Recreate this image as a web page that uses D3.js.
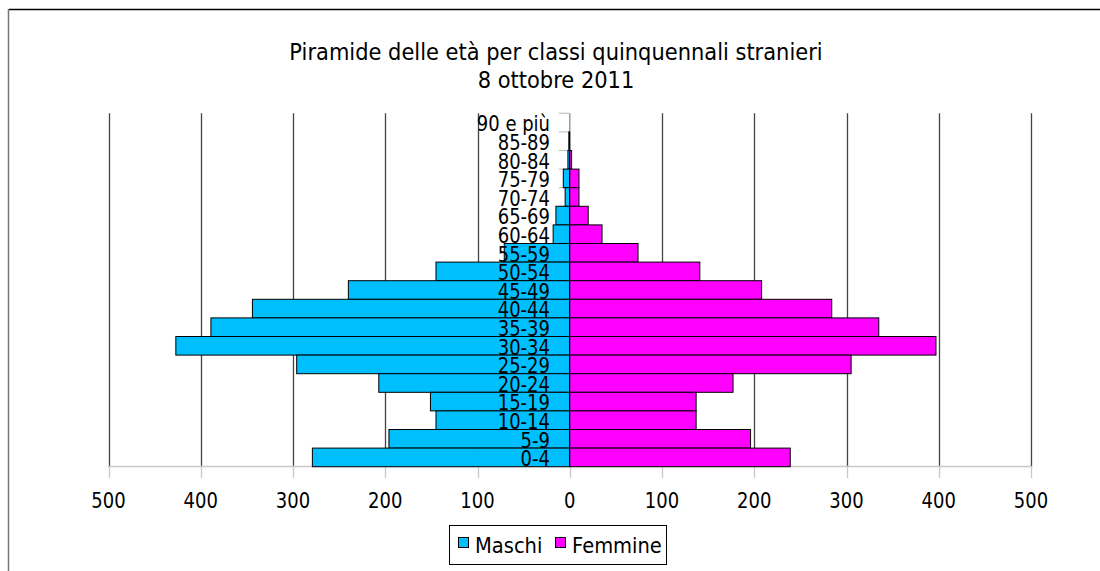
<!DOCTYPE html>
<html>
<head>
    <title>Piramide delle età stranieri</title>
    <script src="https://d3js.org/d3.v7.min.js"></script>
    <style>
        body { margin: 0; background: #fff; }
        svg { display: block; font-family: "DejaVu Sans", Verdana, sans-serif; }
    </style>
</head>
<body>
    <svg id="chart" width="1100" height="571"></svg>

    <script>
        // Classi di età, dall'alto verso il basso
        const ageClasses = ["90 e più", "85-89", "80-84", "75-79", "70-74", "65-69", "60-64",
            "55-59", "50-54", "45-49", "40-44", "35-39", "30-34", "25-29", "20-24",
            "15-19", "10-14", "5-9", "0-4"];
        const maschi = [0, 1, 2, 7, 5, 15, 18, 71, 145, 240, 344, 389, 427, 296, 207, 151, 145, 196, 279];
        const femmine = [0, 0, 2, 10, 10, 20, 35, 74, 141, 208, 284, 335, 397, 305, 177, 137, 137, 196, 239];
        const xTicks = [-500, -400, -300, -200, -100, 0, 100, 200, 300, 400, 500];
        const titleLines = ["Piramide delle età per classi quinquennali stranieri", "8 ottobre 2011"];
        const seriesNames = ["Maschi", "Femmine"];
        const colors = ["#00bfff", "#ff00ff"];

        const svg = d3.select("#chart");
        const sy = 1.15; // text looks a bit stretched vertically

        // frame
        svg.append("line").attr("x1", 9).attr("x2", 1100).attr("y1", 9.5).attr("y2", 9.5)
            .attr("stroke", "#000").attr("stroke-width", 1.5);
        svg.append("line").attr("x1", 8.5).attr("x2", 8.5).attr("y1", 9).attr("y2", 571)
            .attr("stroke", "#777").attr("stroke-width", 1.5);

        const x = d3.scaleLinear().domain([-500, 500]).range([108.5, 1031]);
        const y = d3.scaleBand().domain(ageClasses).range([113.3, 466.7]).padding(0);

        // title
        titleLines.forEach((t, i) => {
            svg.append("text")
                .attr("transform", `translate(556,${60 + i * 28}) scale(1,1.08)`)
                .attr("text-anchor", "middle")
                .attr("font-size", 21)
                .text(t);
        });

        // vertical gridlines
        svg.append("g").selectAll("line")
            .data(xTicks.filter(d => d !== 0))
            .enter().append("line")
            .attr("x1", d => Math.round(x(d)) + 0.5).attr("x2", d => Math.round(x(d)) + 0.5)
            .attr("y1", y.range()[0]).attr("y2", y.range()[1])
            .attr("stroke", "#444").attr("stroke-width", 1.3);

        // bottom axis line and ticks
        svg.append("line").attr("x1", x(-500)).attr("x2", x(500))
            .attr("y1", 466.5).attr("y2", 466.5).attr("stroke", "#c8c8c8").attr("stroke-width", 1.5);
        svg.append("g").selectAll("line")
            .data(xTicks)
            .enter().append("line")
            .attr("x1", d => Math.round(x(d)) + 0.5).attr("x2", d => Math.round(x(d)) + 0.5)
            .attr("y1", 466).attr("y2", 478)
            .attr("stroke", "#c8c8c8").attr("stroke-width", 1.3);

        // zero axis with category ticks
        svg.append("line").attr("x1", x(0)).attr("x2", x(0))
            .attr("y1", y.range()[0]).attr("y2", y.range()[1])
            .attr("stroke", "#999").attr("stroke-width", 1.5);
        svg.append("g").selectAll("line")
            .data(ageClasses)
            .enter().append("line")
            .attr("x1", x(0) - 11).attr("x2", x(0))
            .attr("y1", d => y(d)).attr("y2", d => y(d))
            .attr("stroke", "#c8c8c8").attr("stroke-width", 1.3);

        // bars
        svg.append("g").selectAll("rect")
            .data(ageClasses.map((c, i) => ({ c, v: maschi[i] })).filter(d => d.v > 0))
            .enter().append("rect")
            .attr("x", d => x(-d.v)).attr("width", d => x(0) - x(-d.v))
            .attr("y", d => y(d.c)).attr("height", y.bandwidth())
            .attr("fill", colors[0]).attr("stroke", "#000").attr("stroke-width", 1);
        svg.append("g").selectAll("rect")
            .data(ageClasses.map((c, i) => ({ c, v: femmine[i] })).filter(d => d.v > 0))
            .enter().append("rect")
            .attr("x", x(0)).attr("width", d => x(d.v) - x(0))
            .attr("y", d => y(d.c)).attr("height", y.bandwidth())
            .attr("fill", colors[1]).attr("stroke", "#000").attr("stroke-width", 1);

        // category labels
        svg.append("g").selectAll("text")
            .data(ageClasses)
            .enter().append("text")
            .attr("transform", d => `translate(550,${y(d) + y.bandwidth() - 0.5}) scale(1,${sy})`)
            .attr("text-anchor", "end")
            .attr("font-size", 18)
            .text(d => d);

        // x tick labels (absolute values)
        svg.append("g").selectAll("text")
            .data(xTicks)
            .enter().append("text")
            .attr("transform", d => `translate(${x(d)},508) scale(1,${sy})`)
            .attr("text-anchor", "middle")
            .attr("font-size", 18)
            .text(d => Math.abs(d));

        // legend
        const lg = svg.append("g");
        lg.append("rect").attr("x", 449.5).attr("y", 525.5).attr("width", 217).attr("height", 39)
            .attr("fill", "#fff").attr("stroke", "#000").attr("stroke-width", 1);
        const legendX = [458, 555];
        seriesNames.forEach((n, i) => {
            lg.append("rect").attr("x", legendX[i] + 0.5).attr("y", 537.5).attr("width", 10).attr("height", 10)
                .attr("fill", colors[i]).attr("stroke", "#000").attr("stroke-width", 1);
            lg.append("text")
                .attr("transform", `translate(${legendX[i] + 17},553) scale(1,1.1)`)
                .attr("font-size", 19.5)
                .text(n);
        });
    </script>
</body>
</html>
